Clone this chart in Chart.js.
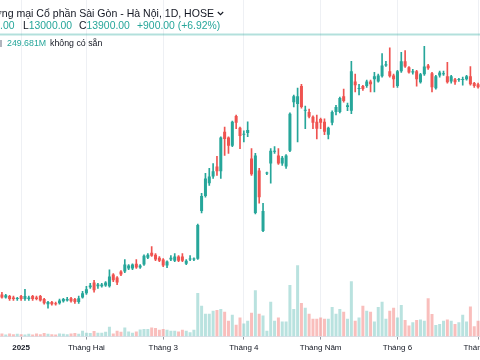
<!DOCTYPE html>
<html>
<head>
<meta charset="utf-8">
<script src="https://cdn.jsdelivr.net/npm/chart.js@4.4.1/dist/chart.umd.min.js"></script>
<style>
  html, body { margin: 0; padding: 0; background: #fff; }
  #wrap { position: relative; width: 480px; height: 360px; overflow: hidden; }
  .lg { position: absolute; font-family: "Liberation Sans", Arial, sans-serif; color: #131722; white-space: nowrap; line-height: 12px; }
  .up { color: #26a69a; }
  #title { left: 0; top: 7px; width: 225px; display: flex; justify-content: flex-end; align-items: center; font-size: 10.55px; }
  #title span { flex: none; }
  #title svg { flex: none; display: block; width: 7px; height: 5px; margin: 1px 1px 0 3px; }
  .o2 { top: 20px; font-size: 10.4px; }
  .o3 { top: 37px; font-size: 8.8px; }
</style>
</head>
<body>
<div id="wrap">
  <canvas id="myChart"></canvas>
  <div class="lg" id="title"><span>Ngân hàng Thương mại Cổ phần Sài Gòn - Hà Nội, 1D, HOSE</span><svg viewBox="0 0 7 5"><polyline points="0.8,1 3.5,3.7 6.2,1" fill="none" stroke="#131722" stroke-width="1.1"/></svg></div>
  <div class="lg o2 up" style="left:0">.00</div>
  <div class="lg o2" style="left:23px">L<span class="up">13000.00</span></div>
  <div class="lg o2" style="left:79px">C<span class="up">13900.00</span></div>
  <div class="lg o2 up" style="left:137px">+900.00 (+6.92%)</div>
  <div class="lg o3" style="left:0; top:40px; width:2px; height:7px; background:#b2b5be"></div>
  <div class="lg o3 up" style="left:7px">249.681M</div>
  <div class="lg o3" style="left:50px">không có sẵn</div>
</div>
<script>
// daily bars, 24/12/2024 -> 01/07/2025
var open = [7790, 7720, 7750, 7720, 7680, 7750, 7680, 7680, 7750, 7720,
  7750, 7680, 7560, 7610, 7580, 7580, 7630, 7650, 7700, 7680,
  7610, 7720, 7820, 7960, 8070, 7980, 7980, 8000, 7980, 8260,
  8190, 8330, 8330, 8400, 8400, 8510, 8420, 8490, 8650, 8770,
  8720, 8650, 8610, 8470, 8610, 8580, 8680, 8680, 8510, 8610,
  8610, 8630, 9750, 10100, 10400, 10560, 10790, 10680, 11610, 11470,
  11280, 11980, 11700, 11540, 11580, 10980, 9700, 10700, 9280, 10630,
  10860, 11140, 11050, 10860, 10790, 11160, 12300, 12260, 12680, 12100,
  12070, 11960, 11840, 11910, 11840, 11540, 11820, 12070, 12070, 12440,
  12190, 12100, 12790, 12610, 12680, 12680, 12790, 12840, 12790, 12910,
  13160, 13030, 12930, 12680, 13030, 13260, 13120, 13000, 13030, 12770,
  12960, 13160, 12980, 12630, 12930, 12960, 12910, 12790, 12840, 12820,
  12820, 12840, 12910, 12750, 12720];
var close = [7720, 7770, 7680, 7680, 7700, 7680, 7750, 7720, 7680, 7680,
  7650, 7580, 7610, 7560, 7560, 7650, 7680, 7680, 7630, 7610,
  7700, 7820, 7910, 8000, 7890, 8020, 8020, 8070, 8210, 8120,
  8070, 8260, 8490, 8470, 8490, 8420, 8470, 8700, 8720, 8700,
  8610, 8580, 8470, 8560, 8650, 8680, 8580, 8580, 8580, 8630,
  8630, 9420, 10100, 10510, 10560, 10680, 10680, 11470, 11440, 11280,
  11840, 11820, 11510, 11560, 11650, 10610, 11050, 10070, 9750, 10640,
  11160, 11160, 10860, 11000, 11050, 12030, 12440, 12440, 12190, 12120,
  11960, 11820, 11680, 11820, 11610, 11700, 12070, 12190, 12400, 12330,
  12230, 13030, 12700, 12630, 12610, 12790, 12720, 12910, 12930, 13160,
  13190, 12910, 12840, 13030, 13260, 13140, 13000, 13030, 12840, 12960,
  13140, 13100, 12650, 12910, 13000, 12980, 12770, 12910, 12770, 12840,
  12840, 12910, 12720, 12680, 12650];
var high = [7840, 7790, 7770, 7750, 7720, 7770, 7910, 7750, 7770, 7750,
  7770, 7700, 7630, 7630, 7610, 7680, 7700, 7720, 7720, 7700,
  7750, 7860, 7980, 8050, 8120, 8050, 8050, 8090, 8370, 8280,
  8210, 8350, 8610, 8490, 8510, 8610, 8490, 8720, 8750, 8910,
  8750, 8680, 8630, 8580, 8700, 8750, 8700, 8750, 8610, 8700,
  8650, 9440, 10160, 10630, 10750, 10860, 11030, 11490, 11720, 11490,
  11860, 12000, 11720, 11630, 11840, 11210, 11100, 10750, 9930, 10660,
  11210, 11260, 11210, 11030, 11070, 12050, 12470, 12630, 12720, 12210,
  12140, 11980, 12000, 11930, 11910, 11720, 12100, 12230, 12420, 12610,
  12280, 13260, 12960, 12720, 12700, 12820, 12820, 13000, 12960, 13440,
  13260, 13580, 12960, 13050, 13470, 13510, 13140, 13070, 13050, 12980,
  13610, 13190, 13000, 12930, 13030, 13030, 13240, 12930, 12860, 12860,
  12890, 12930, 13140, 12770, 12750];
var low = [7700, 7700, 7650, 7650, 7650, 7650, 7650, 7650, 7650, 7660,
  7630, 7560, 7470, 7540, 7540, 7560, 7610, 7630, 7610, 7580,
  7580, 7700, 7790, 7930, 7840, 7930, 7960, 7980, 7960, 8090,
  8020, 8230, 8300, 8370, 8370, 8400, 8400, 8470, 8630, 8680,
  8580, 8560, 8440, 8420, 8580, 8560, 8560, 8560, 8490, 8580,
  8580, 8610, 9700, 10070, 10350, 10510, 10580, 10510, 11050, 11100,
  11260, 11680, 11210, 11370, 11490, 10580, 9680, 9930, 9260, 10600,
  10400, 11100, 10840, 10820, 10750, 11140, 12190, 11370, 12160, 11680,
  11930, 11680, 11440, 11680, 11540, 11440, 11770, 12000, 12050, 12300,
  12100, 12030, 12540, 12470, 12580, 12650, 12540, 12540, 12770, 12890,
  13140, 12890, 12650, 12650, 13000, 13120, 12980, 12960, 12680, 12750,
  12930, 13070, 12540, 12610, 12890, 12930, 12750, 12750, 12720, 12790,
  12700, 12820, 12700, 12650, 12630];
// volume, millions
var volume = [8, 5, 8, 6, 7,
  6, 5, 7, 5, 8, 6, 9, 7, 6, 5, 8, 7, 6, 8, 9, 7, 15,
  10, 9, 14, 10, 10, 12, 25, 8, 15, 12, 23, 13, 10, 13, 18, 19, 19, 23, 22, 17, 19, 17, 15, 15, 13, 17, 15, 11, 17,
  110, 78, 58, 58, 65, 67, 70, 63, 40, 55, 30, 48,
  33, 40, 60, 117, 58, 53, 15, 88, 40, 48, 38, 38, 130, 70, 180, 85, 73, 58, 45, 45,
  48, 45, 45, 75, 58, 70, 63, 45, 140, 40, 48, 78, 65, 63, 38, 75, 88, 45, 65, 73,
  48, 80, 42, 28, 36, 42, 43, 40, 97, 57, 29, 32, 40, 43, 40, 32, 36, 55, 38, 76,
  26, 40];
var tickIdx = [5, 22, 42, 63, 83, 103, 124];
var tickText = ['2025', 'Tháng Hai', 'Tháng 3', 'Tháng 4', 'Tháng Năm', 'Tháng 6', 'Tháng 7'];
var lastPrice = 13900;

var UP = '#26a69a', DOWN = '#ef5350';
var GRID = '#eef0f4';
var labels = close.map(function (c, i) { return i; });
var isUp = close.map(function (c, i) { return c >= open[i]; });
var candleColors = isUp.map(function (u) { return u ? UP : DOWN; });
var volColors = isUp.map(function (u) { return u ? 'rgba(38,166,154,0.32)' : 'rgba(239,83,80,0.38)'; });

const priceLine = {
  id: 'priceLine',
  beforeDatasetsDraw(chart) {
    const ctx = chart.ctx, a = chart.chartArea;
    const py = Math.round(chart.scales.y.getPixelForValue(lastPrice)) + 0.5;
    ctx.save();
    ctx.strokeStyle = 'rgba(38,166,154,0.35)';
    ctx.lineWidth = 2;
    ctx.beginPath();
    ctx.moveTo(a.left, py);
    ctx.lineTo(a.right, py);
    ctx.stroke();
    ctx.restore();
  }
};

const data = {
  labels: labels,
  datasets: [{
    label: 'body',
    data: open.map(function (o, i) { return [o, close[i]]; }),
    backgroundColor: candleColors,
    grouped: false,
    barPercentage: 0.78,
    categoryPercentage: 1,
    minBarLength: 1,
    order: 1
  },
  {
    label: 'wick',
    data: low.map(function (l, i) { return [l, high[i]]; }),
    backgroundColor: candleColors,
    grouped: false,
    barThickness: 1,
    order: 2
  },
  {
    label: 'volume',
    data: volume,
    yAxisID: 'yv',
    backgroundColor: volColors,
    grouped: false,
    barPercentage: 0.78,
    categoryPercentage: 1,
    order: 3
  }]
};

const config = {
  type: 'bar',
  data: data,
  options: {
    responsive: true,
    maintainAspectRatio: false,
    animation: false,
    layout: { padding: { left: 0, right: 0, top: 0, bottom: 4.8 } },
    plugins: { legend: { display: false }, tooltip: { enabled: false } },
    scales: {
      x: {
        offset: true,
        grid: {
          offset: false,
          drawTicks: true,
          tickLength: 3,
          color: function (c) { return tickIdx.indexOf(c.index) >= 0 ? GRID : 'transparent'; },
          tickColor: function (c) { return tickIdx.indexOf(c.index) >= 0 ? '#9598a1' : 'transparent'; }
        },
        border: { display: true, color: '#e0e3eb' },
        ticks: {
          autoSkip: false,
          maxRotation: 0,
          minRotation: 0,
          padding: 3,
          color: '#131722',
          font: function (c) {
            return { family: 'Liberation Sans', size: 8, weight: c.index === tickIdx[0] ? 'bold' : 'normal' };
          },
          callback: function (v, i) {
            var k = tickIdx.indexOf(i);
            return k >= 0 ? tickText[k] : '';
          }
        },
        afterFit: function (s) { s.paddingLeft = 0; s.paddingRight = 0; }
      },
      y: {
        position: 'right',
        min: 6800,
        max: 14700,
        ticks: { display: false, stepSize: 500 },
        grid: {
          drawTicks: false,
          color: function (c) { return c.tick && c.tick.value % 500 === 0 ? GRID : 'transparent'; }
        },
        border: { display: false },
        afterFit: function (s) { s.width = 0; }
      },
      yv: {
        display: false,
        min: 0,
        max: 850
      }
    }
  },
  plugins: [priceLine]
};

var myChart = new Chart(document.getElementById('myChart'), config);
</script>
</body>
</html>
